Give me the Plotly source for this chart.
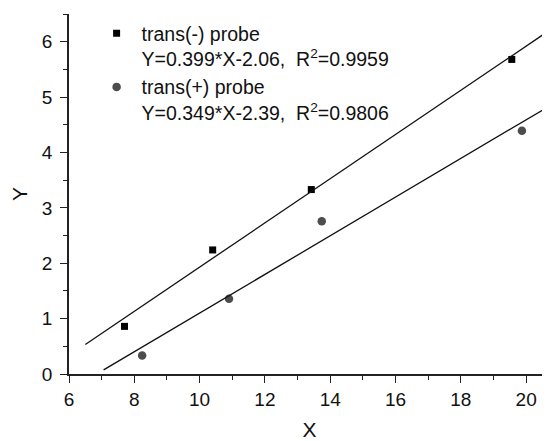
import plotly.graph_objects as go

# data
minus_x = [7.70, 10.40, 13.42, 19.56]
minus_y = [0.86, 2.24, 3.33, 5.68]
plus_x = [8.24, 10.90, 13.74, 19.87]
plus_y = [0.335, 1.36, 2.76, 4.39]

fit_slopes = [0.399, 0.349]
fit_intercepts = [-2.06, -2.39]
fit_x_start = [6.5, 7.06]
fit_x_end = [20.73, 20.73]

names = ["trans(-) probe<br>Y=0.399*X-2.06,  R<sup>2</sup>=0.9959",
         "trans(+) probe<br>Y=0.349*X-2.39,  R<sup>2</sup>=0.9806"]

x_range = [6, 20.73]
y_range = [0, 6.5]
x_ticks = [6, 8, 10, 12, 14, 16, 18, 20]
y_ticks = [0, 1, 2, 3, 4, 5, 6]

FONT = "Arial, Liberation Sans, sans-serif"

fig = go.Figure()
fig.add_trace(go.Scatter(x=minus_x, y=minus_y, mode="markers", name=names[0],
                         marker=dict(symbol="square", size=7, color="#000000")))
fig.add_trace(go.Scatter(x=plus_x, y=plus_y, mode="markers", name=names[1],
                         marker=dict(symbol="circle", size=8.5, color="#4d4d4d")))
for m, b, xs, xe in zip(fit_slopes, fit_intercepts, fit_x_start, fit_x_end):
    fig.add_trace(go.Scatter(x=[xs, xe], y=[m * xs + b, m * xe + b], mode="lines",
                             line=dict(color="#111111", width=1.3), showlegend=False,
                             hoverinfo="skip", cliponaxis=True))

axis_common = dict(showline=True, linecolor="#222222", linewidth=1.5, mirror=False,
                   showgrid=False, zeroline=False, ticks="outside", ticklen=7,
                   tickwidth=1.3, tickcolor="#222222",
                   tickfont=dict(family=FONT, size=19, color="#111111"))

fig.update_xaxes(range=x_range, tickvals=x_ticks, automargin=False,
                 title=dict(text="X", font=dict(family=FONT, size=21, color="#111111"), standoff=18),
                 minor=dict(ticks="outside", ticklen=4, tickwidth=1.2, tickcolor="#222222", dtick=1, tick0=0),
                 **axis_common)
fig.update_yaxes(range=y_range, tickvals=y_ticks, automargin=False, ticklabelstandoff=4,
                 title=dict(text="Y", font=dict(family=FONT, size=21, color="#111111"), standoff=12),
                 minor=dict(ticks="outside", ticklen=4, tickwidth=1.2, tickcolor="#222222", dtick=0.5, tick0=0),
                 **axis_common)

fig.update_layout(
    width=542, height=433,
    margin=dict(l=60.5, r=0, t=5.5, b=66.7, autoexpand=False),
    plot_bgcolor="white", paper_bgcolor="white",
    font=dict(family=FONT, size=19, color="#111111"),
    legend=dict(x=0.047, y=1.0, xanchor="left", yanchor="top", valign="top",
                bgcolor="rgba(0,0,0,0)", font=dict(family=FONT, size=19.5, color="#111111"),
                tracegroupgap=0, itemwidth=40),
    showlegend=True,
)

fig.write_html("out.html")
